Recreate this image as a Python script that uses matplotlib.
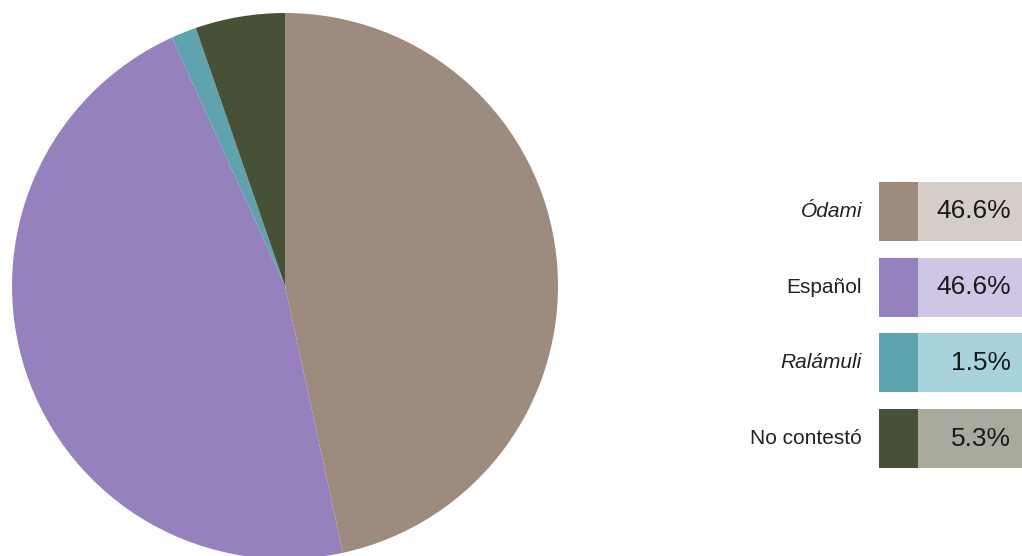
import matplotlib.pyplot as plt
from matplotlib.patches import Rectangle

plt.rcParams['font.family'] = ['Liberation Sans', 'DejaVu Sans']

# language data
labels = ["Ódami", "Español", "Ralámuli", "No contestó"]
values = [46.6, 46.6, 1.5, 5.3]
italic = [True, False, True, False]
pie_colors = ["#9d8b7e", "#9581bd", "#5fa3ae", "#465136"]
light_colors = ["#d5cec6", "#cfc5e4", "#a9d3dc", "#a9a99e"]

W, H = 1022, 556
fig = plt.figure(figsize=(W / 100, H / 100), dpi=100)

# pie, runs off the bottom edge a little
r = 273
cx, cy = 285, 286
ax = fig.add_axes([(cx - r) / W, (H - cy - r) / H, 2 * r / W, 2 * r / H])
ax.pie(values, colors=pie_colors, startangle=90, counterclock=False,
       radius=1.0, wedgeprops=dict(linewidth=0))
ax.set_xlim(-1, 1)
ax.set_ylim(-1, 1)
ax.set_aspect('equal')
ax.axis('off')

# legend drawn in pixel space
lg = fig.add_axes([0, 0, 1, 1])
lg.set_xlim(0, W)
lg.set_ylim(H, 0)
lg.axis('off')

row_top = 182
row_h = 59
row_step = 75.7
for i, (lab, val) in enumerate(zip(labels, values)):
    y0 = row_top + i * row_step
    lg.add_patch(Rectangle((918, y0), W - 918, row_h, color=light_colors[i], lw=0))
    lg.add_patch(Rectangle((879, y0), 39, row_h, color=pie_colors[i], lw=0))
    yc = y0 + row_h / 2
    lg.text(862, yc, lab, ha='right', va='center', fontsize=15,
            style='italic' if italic[i] else 'normal', color='#222222')
    lg.text(1011, yc, f"{val:.1f}%", ha='right', va='center', fontsize=19,
            color='#1a1a1a')

fig.savefig("out.png", dpi=100)
